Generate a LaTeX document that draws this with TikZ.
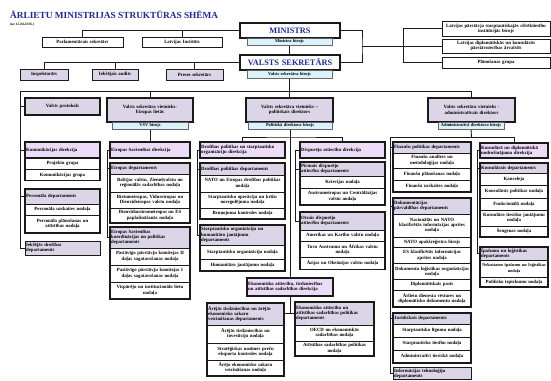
\documentclass[tikz,border=0pt]{standalone}
\usepackage{fontspec}
\setmainfont{Liberation Serif}
\usetikzlibrary{shadows}
\definecolor{lav}{HTML}{DBD5E7}
\definecolor{pnk}{HTML}{ECDCF7}
\definecolor{lbl}{HTML}{DCF2FB}
\definecolor{ttl}{HTML}{1F2A8C}
\definecolor{ln}{HTML}{1A1A1A}
\pgfdeclarelayer{bg}
\pgfdeclarelayer{bgw}
\pgfsetlayers{bgw,bg,main}
\newcommand{\bx}[7]{\node[#2, anchor=north west, minimum width=#5pt, minimum height=#6pt, text width=\dimexpr#5pt-2.4pt\relax] (#1) at (#3,#4) {#7};}
\newcommand{\grp}[2]{\draw[frame] (#1.north west) rectangle (#2.south east);}
\tikzset{
  sh/.style={drop shadow={shadow xshift=0.8pt, shadow yshift=-0.8pt, fill=black!45, opacity=1}},
  box/.style={draw=ln, line width=0.6pt, inner xsep=1.2pt, inner ysep=0.4pt, outer sep=0pt, align=center, font=\fontsize{4.8}{5.3}\selectfont\bfseries, fill=white},
  row/.style={box, sh},
  hdr/.style={box, sh, fill=lav, align=left},
  dir/.style={box, sh, fill=pnk, align=left, line width=1.1pt},
  lvl/.style={box, sh, fill=lav, line width=1.6pt},
  bir/.style={box, fill=lbl, line width=0.4pt, draw=black!60, font=\fontsize{4.4}{5}\selectfont\bfseries, drop shadow={shadow xshift=0.6pt, shadow yshift=-0.6pt, fill=black!30, opacity=1}},
  chief/.style={box, sh, line width=1.8pt, font=\fontsize{8.3}{9}\selectfont\bfseries, text=ttl},
  plain/.style={box, sh, line width=1pt},
  plav/.style={box, sh, line width=1pt, fill=lav},
  frame/.style={draw=ln, line width=1.1pt},
  conn/.style={draw=ln, line width=0.9pt}
}
\begin{document}
\begin{tikzpicture}[x=1pt,y=-1pt]
\begin{pgfonlayer}{bgw}
\fill[white] (0,0) rectangle (551,380);
\end{pgfonlayer}
\useasboundingbox (0,0) rectangle (551,380);

\node[anchor=west, inner sep=0, font=\fontsize{9.3}{10}\selectfont\bfseries, text=ttl] (title) at (10,15) {ĀRLIETU MINISTRIJAS STRUKTŪRAS SHĒMA};
\node[anchor=west, inner sep=0, font=\fontsize{3.6}{4}\selectfont\bfseries\itshape] (sub) at (10,25) {(uz 15.04.2016.)};

% top
\bx{ministrs}{chief}{240}{23}{100}{15}{MINISTRS}
\bx{mbir}{bir}{247}{38}{85}{7.5}{Ministra birojs}
\bx{vs}{chief}{240}{55}{100}{15}{VALSTS SEKRETĀRS}
\bx{vsbir}{bir}{247}{70}{85}{8.5}{Valsts sekretāra birojs}
\bx{parl}{plain}{42}{37}{81}{10}{Parlamentārais sekretārs}
\bx{li}{plain}{142}{37}{80}{10}{Latvijas Institūts}
\bx{insp}{plav}{20}{69}{48}{11}{Inspektorāts}
\bx{audit}{plav}{92}{69}{46}{11}{Iekšējais audits}
\bx{preses}{plav}{166}{69}{57}{11}{Preses sekretārs}
\bx{r1}{plain}{442}{21}{108}{15}{Latvijas pārstāvja starptautiskajās cilvēktiesību\\institūcijās birojs}
\bx{r2}{plain}{442}{39}{108}{14}{Latvijas diplomātiskās un konsulārās\\pārstāvniecības ārvalstīs}
\bx{r3}{plain}{442}{57}{108}{11}{Plānošanas grupa}

% level 2
\bx{proto}{lvl}{25}{98}{75}{17}{Valsts protokols}
\bx{vieu}{lvl}{107}{98}{86}{24}{Valsts sekretāra vietnieks-\\Eiropas lietās}
\bx{vsvb}{bir}{112}{122}{76}{7}{VSV birojs}
\bx{pold}{lvl}{246}{98}{87}{24}{Valsts sekretāra vietnieks –\\politiskais direktors}
\bx{pdb}{bir}{248}{122}{84}{7}{Politiskā direktora birojs}
\bx{adm}{lvl}{428}{98}{87}{24}{Valsts sekretāra vietnieks -\\administratīvais direktors}
\bx{adb}{bir}{438}{122}{66}{7}{Administratīvā direktora birojs}

% column 1
\bx{kom}{dir}{25}{142}{75}{16}{Komunikācijas direkcija}
\bx{kom1}{row}{25}{158}{75}{11.5}{Projektu grupa}
\bx{kom2}{row}{25}{169.5}{75}{11}{Komunikācijas grupa}
\bx{pers}{hdr}{25}{189}{75}{15}{Personāla departaments}
\bx{pers1}{row}{25}{204}{75}{11}{Personāla uzskaites nodaļa}
\bx{pers2}{row}{25}{215}{75}{18}{Personāla plānošanas un\\attīstības nodaļa}
\bx{iek}{hdr}{25}{241}{75}{14}{Iekšējās drošības\\departaments}

% column 2
\bx{esd}{dir}{110}{142}{80}{16}{Eiropas Savienības direkcija}
\bx{eud}{hdr}{110}{163}{80}{11}{Eiropas departaments}
\bx{eud1}{row}{110}{174}{80}{18}{Baltijas valstu, Ziemeļvalstu un\\reģionālās sadarbības nodaļa}
\bx{eud2}{row}{110}{192}{80}{16}{Rietumeiropas, Viduseiropas un\\Dienvideiropas valstu nodaļa}
\bx{eud3}{row}{110}{208}{80}{15}{Dienvidaustrumeiropas un ES\\paplašināšanās nodaļa}
\bx{esk}{hdr}{110}{227}{80}{21}{Eiropas Savienības\\koordinācijas un politikas\\departaments}
\bx{esk1}{row}{110}{248}{80}{17}{Pastāvīgo pārstāvju komitejas II\\daļas sagatavošanas nodaļa}
\bx{esk2}{row}{110}{265}{80}{17}{Pastāvīgo pārstāvju komitejas I\\daļas sagatavošanas nodaļa}
\bx{esk3}{row}{110}{282}{80}{17}{Vispārējo un institucionālo lietu\\nodaļa}

% column 3a
\bx{dpo}{dir}{200}{142}{85}{16}{Drošības politikas un starptautisko\\organizāciju direkcija}
\bx{dpd}{hdr}{200}{163}{85}{12}{Drošības politikas departaments}
\bx{dpd1}{row}{200}{175}{85}{17}{NATO un Eiropas drošības politikas\\nodaļa}
\bx{dpd2}{row}{200}{192}{85}{16}{Starptautisko operāciju un krīžu\\noregulējuma nodaļa}
\bx{dpd3}{row}{200}{208}{85}{11}{Bruņojuma kontroles nodaļa}
\bx{sohj}{hdr}{200}{225}{85}{20}{Starptautisko organizāciju un\\humanitāro jautājumu\\departaments}
\bx{sohj1}{row}{200}{245}{85}{14}{Starptautisko organizāciju nodaļa}
\bx{sohj2}{row}{200}{259}{85}{12}{Humanitāro jautājumu nodaļa}

% column 3b
\bx{dad}{dir}{300}{142}{85}{16}{Divpusējo attiecību direkcija}
\bx{pda}{hdr}{300}{162}{85}{14}{Pirmais divpusējo\\attiecību departaments}
\bx{pda1}{row}{300}{176}{85}{12}{Krievijas nodaļa}
\bx{pda2}{row}{300}{188}{85}{17}{Austrumeiropas un Centrālāzijas\\valstu nodaļa}
\bx{oda}{hdr}{300}{212}{85}{18}{Otrais divpusējo\\attiecību departaments}
\bx{oda1}{row}{300}{230}{85}{11.5}{Amerikas un Karību valstu nodaļa}
\bx{oda2}{row}{300}{241.5}{85}{16}{Tuvo Austrumu un Āfrikas valstu\\nodaļa}
\bx{oda3}{row}{300}{257.5}{85}{12}{Āzijas un Okeānijas valstu nodaļa}

% economic
\bx{ekd}{dir}{247}{278}{86}{18}{Ekonomisko attiecību, tirdzniecības\\un attīstības sadarbības direkcija}
\bx{atd}{hdr}{207}{303}{77}{22}{Ārējās tirdzniecības un ārējās\\ekonomisko sakaru\\veicināšanas departaments}
\bx{atd1}{row}{207}{325}{77}{18}{Ārējās tirdzniecības un\\investīciju nodaļa}
\bx{atd2}{row}{207}{343}{77}{17}{Stratēģiskas nozīmes preču\\eksporta kontroles nodaļa}
\bx{atd3}{row}{207}{360}{77}{16}{Ārējo ekonomisko sakaru\\veicināšanas nodaļa}
\bx{eas}{hdr}{295}{302}{79}{23}{Ekonomisko attiecību un\\attīstības sadarbības politikas\\departaments}
\bx{eas1}{row}{295}{325}{79}{16}{OECD un ekonomiskās\\sadarbības nodaļa}
\bx{eas2}{row}{295}{341}{79}{15}{Attīstības sadarbības politikas\\nodaļa}

% column 4a
\bx{fpd}{hdr}{393}{142}{78}{11}{Finanšu politikas departaments}
\bx{fpd1}{row}{393}{153}{78}{15}{Finanšu analīzes un\\metodoloģijas nodaļa}
\bx{fpd2}{row}{393}{168}{78}{12}{Finanšu plānošanas nodaļa}
\bx{fpd3}{row}{393}{180}{78}{12}{Finanšu uzskaites nodaļa}
\bx{dpv}{hdr}{393}{198}{78}{16}{Dokumentācijas\\pārvaldības departaments}
\bx{dpv1}{row}{393}{214}{78}{23}{Nacionālās un NATO\\klasificētās informācijas aprites\\nodaļa}
\bx{dpv2}{row}{393}{237}{78}{10.5}{NATO apakšreģistra birojs}
\bx{dpv3}{row}{393}{247.5}{78}{16}{ES klasificētās informācijas\\aprites nodaļa}
\bx{dpv4}{row}{393}{263.5}{78}{16}{Dokumentu loģistikas organizācijas\\nodaļa}
\bx{dpv5}{row}{393}{279.5}{78}{10.5}{Diplomātiskais pasts}
\bx{dpv6}{row}{393}{290}{78}{17}{Ārlietu dienesta vēstures un\\diplomātisko dokumentu nodaļa}
\bx{jur}{hdr}{393}{313}{78}{11}{Juridiskais departaments}
\bx{jur1}{row}{393}{324}{78}{13}{Starptautisko līgumu nodaļa}
\bx{jur2}{row}{393}{337}{78}{13}{Starptautisko tiesību nodaļa}
\bx{jur3}{row}{393}{350}{78}{13}{Administratīvi tiesiskā nodaļa}
\bx{itd}{hdr}{393}{367.5}{78}{12}{Informācijas tehnoloģiju\\departaments}

% column 4b
\bx{kdd}{dir}{480}{143}{68}{15}{Konsulārā un diplomātiskā\\nodrošinājuma direkcija}
\bx{kd}{hdr}{480}{163}{68}{10}{Konsulārais departaments}
\bx{kd1}{row}{480}{173}{68}{12}{Kanceleja}
\bx{kd2}{row}{480}{185}{68}{13}{Konsulārās politikas nodaļa}
\bx{kd3}{row}{480}{198}{68}{12}{Funkcionālā nodaļa}
\bx{kd4}{row}{480}{210}{68}{16}{Konsulāro tiesisko jautājumu\\nodaļa}
\bx{kd5}{row}{480}{226}{68}{11}{Šengenas nodaļa}
\bx{ipd}{hdr}{480}{247}{68}{13}{Īpašumu un loģistikas\\departaments}
\bx{ipd1}{row}{480}{260}{68}{17}{{\fontsize{4.3}{5}\selectfont Nekustamo īpašumu un loģistikas\\nodaļa}}
\bx{ipd2}{row}{480}{277}{68}{10}{Publisko iepirkumu nodaļa}

% group frames
\grp{kom}{kom2}\grp{pers}{pers2}\grp{eud}{eud3}\grp{esk}{esk3}
\grp{dpd}{dpd3}\grp{sohj}{sohj2}\grp{pda}{pda2}\grp{oda}{oda3}
\grp{atd}{atd3}\grp{eas}{eas2}\grp{fpd}{fpd3}\grp{dpv}{dpv6}
\grp{jur}{jur3}\grp{kd}{kd5}\grp{ipd}{ipd2}

\begin{pgfonlayer}{bg}
\draw[conn] (ministrs.west) -| (parl.north);
\draw[conn] (ministrs.west) -| (li.north);
\draw[conn] (vs.west) -| (insp.north);
\draw[conn] (vs.west) -| (audit.north);
\draw[conn] (vs.west) -| (preses.north);
\draw[conn] (mbir.south) -- (mbir.south |- vs.north);
\coordinate (jr) at (362,46);
\coordinate (jr2) at (403,46);
\draw[conn] (ministrs.east) -| (jr) |- (vs.east);
\draw[conn] (jr) -- (jr2);
\draw[conn] (r1.west) -| (jr2);
\draw[conn] (r3.west) -| (jr2);
\draw[conn] (r2.west) -- (r2.west -| jr2);
% main bus
\coordinate (b0) at (20,91);
\coordinate (b1) at (471.5,91);
\draw[conn] (vsbir.south) -- (vsbir.south |- b0);
\draw[conn] (b0) -- (b1) -- (adm.north);
\draw[conn] (b0) |- (iek.west);
\draw[conn] (b0 |- proto.west) -- (proto.west);
\draw[conn] (b0 |- kom.west) -- (kom.west);
\draw[conn] (b0 |- pers.west) -- (pers.west);
\draw[conn] (vieu.north |- b0) -- (vieu.north);
\draw[conn] (pold.north |- b0) -- (pold.north);
% column 2
\draw[conn] (vsvb.south) -- (vsvb.south |- esd.north);
\draw[conn] (esd.west) -- ++(-3,0) |- (esk.west);
\draw[conn] (eud.west) -- ++(-3,0);
% column 3
\coordinate (p1) at (290,137);
\draw[conn] (pdb.south) -- (ekd.north);
\draw[conn] (dpo.north) |- (p1) -| (dad.north);
\draw[conn] (dpo.west) -- ++(-3,0) |- (sohj.west);
\draw[conn] (dpd.west) -- ++(-3,0);
\draw[conn] (dad.west) -- ++(-5,0) |- (oda.west);
\draw[conn] (pda.west) -- ++(-5,0);
\coordinate (jx) at (290,313);
\draw[conn] (ekd.south) -- (jx);
\draw[conn] (jx -| atd.east) -- (jx -| eas.west);
% column 4
\coordinate (q) at (471.5,137);
\coordinate (q0) at (390,137);
\draw[conn] (adb.south) -- (q);
\draw[conn] (q0) -| (kdd.north);
\draw[conn] (q0) |- (itd.west);
\draw[conn] (q0 |- fpd.west) -- (fpd.west);
\draw[conn] (q0 |- dpv.west) -- (dpv.west);
\draw[conn] (q0 |- jur.west) -- (jur.west);
\draw[conn] (kdd.west) -- ++(-3,0) |- (ipd.west);
\draw[conn] (kd.west) -- ++(-3,0);
\end{pgfonlayer}
\end{tikzpicture}
\end{document}
